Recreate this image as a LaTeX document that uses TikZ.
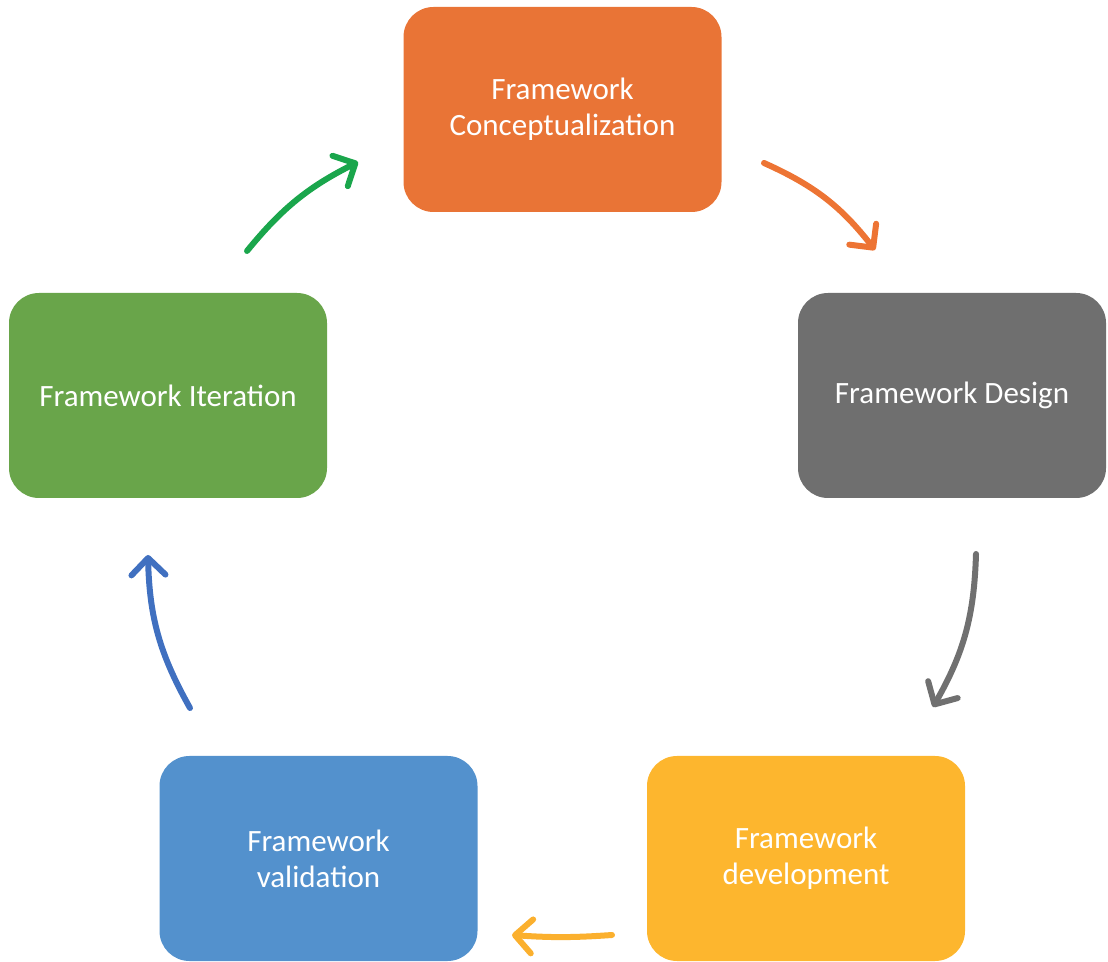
\documentclass[tikz,border=0pt]{standalone}
\usepackage{fontspec}
\setmainfont{Carlito}
\usetikzlibrary{arrows.meta}
\definecolor{cOrange}{HTML}{E97436}
\definecolor{cGray}{HTML}{6F6F6F}
\definecolor{cYellow}{HTML}{FDB62E}
\definecolor{cBlue}{HTML}{5391CD}
\definecolor{cGreen}{HTML}{69A54A}
\definecolor{aOrange}{HTML}{ED7434}
\definecolor{aGray}{HTML}{707070}
\definecolor{aYellow}{HTML}{FBB02E}
\definecolor{aBlue}{HTML}{4070C0}
\definecolor{aGreen}{HTML}{1AA64C}
\begin{document}
\begin{tikzpicture}[x=1pt,y=1pt,
  stage/.style={rectangle, rounded corners=30pt, minimum width=318pt,
    minimum height=205pt, text=white, align=center,
    font=\fontsize{31}{36}\selectfont, inner sep=0pt},
  flow/.style={line width=6pt, line cap=round,
    -{Straight Barb[length=17pt, width=34pt, line cap=round, line join=round]}}]
\useasboundingbox (0,0) rectangle (1108,961);
\node[stage, fill=cOrange] (concept) at (562.5,851.5) {Framework\\Conceptualization};
\node[stage, fill=cGray, minimum width=308pt] (design) at (952,565.5) {Framework Design};
\node[stage, fill=cYellow] (devel) at (806,102.5) {Framework\\development};
\node[stage, fill=cBlue] (valid) at (318.5,102.5) {Framework\\validation};
\node[stage, fill=cGreen] (iter) at (168,565.5) {Framework Iteration};
% arrow ends between the stages
\coordinate (o1) at (764,798);  \coordinate (o2) at (875,711);
\coordinate (g1) at (976,407);  \coordinate (g2) at (933,254);
\coordinate (y1) at (612,26);   \coordinate (y2) at (512,26);
\coordinate (b1) at (190,253);  \coordinate (b2) at (148,406);
\coordinate (e1) at (247,710);  \coordinate (e2) at (358,799);
\draw[flow, aOrange] (o1) to[bend left=14] (o2);
\draw[flow, aGray] (g1) to[bend left=14] (g2);
\draw[flow, aYellow] (y1) to[bend left=4] (y2);
\draw[flow, aBlue] (b1) to[bend left=14] (b2);
\draw[flow, aGreen] (e1) to[bend left=12] (e2);
\end{tikzpicture}
\end{document}
